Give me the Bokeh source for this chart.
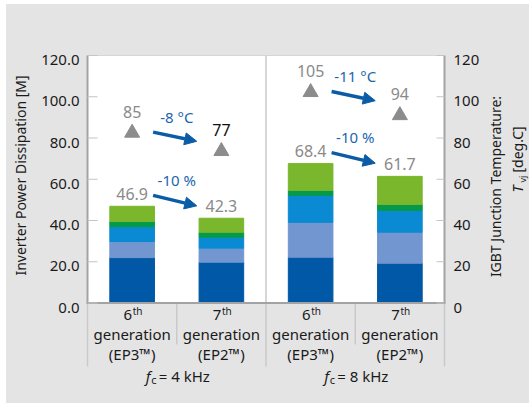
import numpy as np
from bokeh.plotting import figure
from bokeh.models import Range1d, Arrow, NormalHead, ColumnDataSource
from bokeh.core.properties import value
from bokeh.embed import file_html
from bokeh.resources import INLINE

# ---------------- data ----------------
gen_num = ["6", "7", "6", "7"]
gen_word = ["generation", "generation", "generation", "generation"]
gen_name = ["(EP3™)", "(EP2™)", "(EP3™)", "(EP2™)"]
freq_labels = ["4", "8"]

seg_igbt_cond = [22.0, 19.8, 22.2, 19.3]
seg_igbt_sw = [7.8, 6.8, 16.9, 15.0]
seg_diode_a = [7.2, 5.3, 13.1, 10.6]
seg_diode_b = [2.5, 2.4, 2.4, 2.9]
seg_other = [7.4, 6.8, 13.0, 13.6]
total_labels = ["46.9", "42.3", "68.4", "61.7"]

tj_values = [82.5, 73.6, 102.2, 91.0]
tj_labels = ["85", "77", "105", "94"]

power_change = ["-10 %", "-10 %"]
temp_change = ["-8 °C", "-11 °C"]

left_ticks = [0, 20, 40, 60, 80, 100, 120]
left_tick_labels = ["%.1f" % t for t in left_ticks]
right_tick_labels = ["%d" % t for t in left_ticks]
y_title_left = "Inverter Power Dissipation [M]"
y_title_right = "IGBT Junction Temperature:"

# ---------------- layout / styles ----------------
W, H = 529, 403
FONT = "Noto Sans"
seg_colors = ["#0058a6", "#7296cf", "#0a8ad2", "#05994a", "#7ab72c"]
GREY_TXT = "#8a8a8a"
BLUE_TXT = "#1c66ae"
ARROW_COL = "#0b5ca7"
DARK = "#1a1a1a"
AXIS_COL = "#a3a3a3"
DIV_COL = "#cacaca"
BG = "#e4e4e4"
tj_label_colors = [GREY_TXT, "#111111", GREY_TXT, GREY_TXT]

# pixel geometry of the plotting area: x 0..4 -> 87..444 px, y 0..120 -> 302.5..55 px
X0PX, XS = 87.0, 89.25        # px of x=0, px per x unit
Y0PX, YS = 302.5, 2.0625      # px of y=0, px per y unit
PX = 1.0 / XS                 # one pixel in x units
PY = 1.0 / YS                 # one pixel in y units

def dx(px):
    return (px - X0PX) / XS

def dy(py):
    return (Y0PX - py) / YS

xs = list(np.arange(len(gen_num)) + 0.5)
totals = [a + b + c + d + e for a, b, c, d, e in
          zip(seg_igbt_cond, seg_igbt_sw, seg_diode_a, seg_diode_b, seg_other)]

p = figure(width=W, height=H, x_range=Range1d(dx(0), dx(W)), y_range=Range1d(dy(H), dy(0)),
           output_backend="svg", toolbar_location=None,
           x_axis_location=None, y_axis_location=None,
           min_border=0, min_border_left=0, min_border_right=0, min_border_top=0, min_border_bottom=0,
           border_fill_color="white", background_fill_color="white", outline_line_color=None)
p.xgrid.visible = False
p.ygrid.visible = False

# grey panel and white plotting area
p.quad(left=[dx(6)], right=[dx(W)], bottom=[dy(H)], top=[dy(4)], color=BG)
p.quad(left=[0], right=[4], bottom=[0], top=[120], color="white")
p.segment(x0=[0], y0=[120], x1=[4], y1=[120], line_color="#d6d6d6", line_width=1)

# dividers (inside and below the plotting area)
p.segment(x0=[2], y0=[0], x1=[2], y1=[120], line_color=DIV_COL, line_width=1.5)
p.segment(x0=[0, 2, 4], y0=[0, 0, 0], x1=[0, 2, 4], y1=[dy(366)] * 3, line_color=DIV_COL, line_width=1.5)
p.segment(x0=[1, 3], y0=[0, 0], x1=[1, 3], y1=[dy(344)] * 2, line_color=DIV_COL, line_width=1.5)

# stacked bars
src = ColumnDataSource(dict(x=xs, s1=seg_igbt_cond, s2=seg_igbt_sw, s3=seg_diode_a,
                            s4=seg_diode_b, s5=seg_other))
p.vbar_stack(["s1", "s2", "s3", "s4", "s5"], x="x", width=0.5, color=seg_colors, source=src)

# axis lines and ticks
p.segment(x0=[0, 4], y0=[0, 0], x1=[0, 4], y1=[120, 120], line_color=AXIS_COL, line_width=2)
p.segment(x0=[0 - PX], y0=[0], x1=[4 + PX], y1=[0], line_color=AXIS_COL, line_width=2)
p.segment(x0=[0] * len(left_ticks), y0=left_ticks, x1=[10 * PX] * len(left_ticks), y1=left_ticks,
          line_color="#c4c4c4", line_width=1)
p.segment(x0=[4 - 8 * PX] * len(left_ticks), y0=left_ticks, x1=[4] * len(left_ticks), y1=left_ticks,
          line_color="#c4c4c4", line_width=1)

def txt(x, y, text, size="15px", color=DARK, align="center", baseline="middle",
        angle=0.0, style="normal"):
    p.text(x=x, y=y, text=text, text_font=value(FONT), text_font_size=value(size),
           text_color=color, text_align=align, text_baseline=baseline,
           angle=angle, text_font_style=style)

lab_dy = 4.5 * PY
txt([-8 * PX] * len(left_ticks), [t - lab_dy for t in left_ticks], left_tick_labels, align="right")
txt([4 + 9 * PX] * len(left_ticks), [t - lab_dy for t in left_ticks], right_tick_labels, align="left")

# axis titles
txt([dx(20)], [dy(175)], [y_title_left], size="14px", angle=np.pi / 2)
txt([dx(495)], [dy(186)], [y_title_right], size="14px", angle=np.pi / 2)
txt([dx(517)], [dy(192)], ["T"], size="14px", align="left", angle=np.pi / 2, style="italic")
txt([dx(522)], [dy(182)], ["vj"], size="9px", align="left", angle=np.pi / 2)
txt([dx(517)], [dy(172)], ["[deg.C]"], size="14px", align="left", angle=np.pi / 2)

# triangles (junction temperature)
p.scatter(x=xs, y=tj_values, marker="triangle", size=15, color="#8c8c8c")

# value labels
txt(xs, [t + 12.5 * PY for t in totals], total_labels, size="16px", color=GREY_TXT)
for i in range(len(xs)):
    txt([xs[i]], [tj_values[i] + 21 * PY], [tj_labels[i]], size="16px", color=tj_label_colors[i])

# category labels below the axis
txt(xs, [dy(314)] * 4, gen_num, size="15px", align="right")
txt([x + 0.5 * PX for x in xs], [dy(310)] * 4, ["th"] * 4, size="10px", align="left")
txt(xs, [dy(333)] * 4, gen_word, size="15px")
txt(xs, [dy(353)] * 4, gen_name, size="15px")

# group labels, change arrows and change texts
for g in range(2):
    l, r = 2 * g, 2 * g + 1
    gx = (xs[l] + xs[r]) / 2
    txt([gx - 31 * PX], [dy(375)], ["f"], size="15px", align="left", style="italic")
    txt([gx - 25.5 * PX], [dy(379)], ["c"], size="11px", align="left")
    txt([gx - 18 * PX], [dy(375)], ["= " + freq_labels[g] + " kHz"], size="15px", align="left")

    p.add_layout(Arrow(x_start=xs[l] + 0.235, y_start=totals[l] + 5.3,
                       x_end=xs[r] - 0.276, y_end=totals[l] + 0.2,
                       line_color=ARROW_COL, line_width=3.5,
                       end=NormalHead(size=12, fill_color=ARROW_COL, line_color=ARROW_COL)))
    p.add_layout(Arrow(x_start=xs[l] + 0.235, y_start=tj_values[l] + 0.35,
                       x_end=xs[r] - 0.276, y_end=tj_values[l] - 4.1,
                       line_color=ARROW_COL, line_width=3.5,
                       end=NormalHead(size=12, fill_color=ARROW_COL, line_color=ARROW_COL)))
    txt([gx], [totals[l] + 12.7], [power_change[g]], size="15px", color=BLUE_TXT)
    txt([gx], [tj_values[l] + 7.7], [temp_change[g]], size="15px", color=BLUE_TXT)

open("out.html", "w").write(file_html(p, INLINE))
